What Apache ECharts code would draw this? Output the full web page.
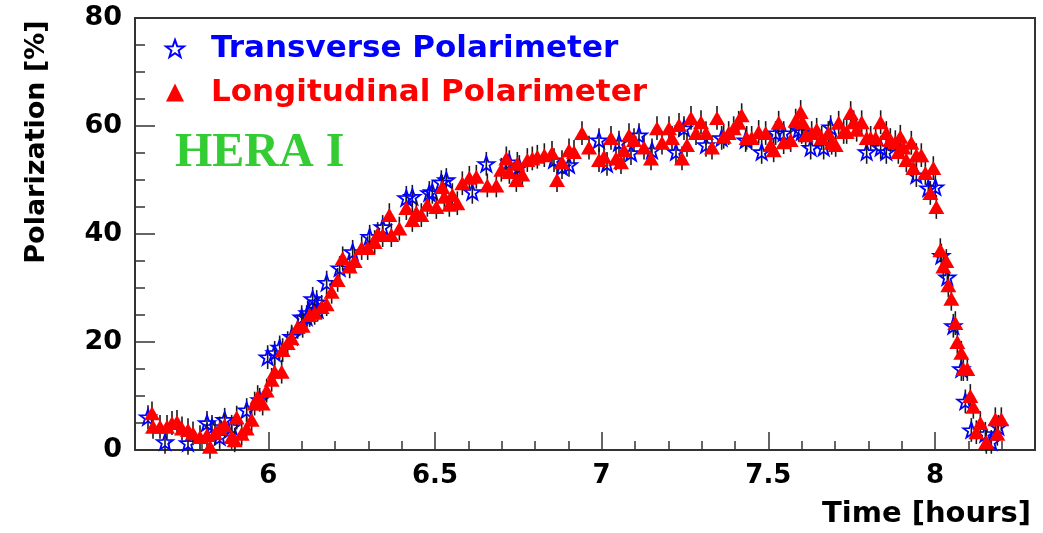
<!DOCTYPE html>
<html>
<head>
<meta charset="utf-8">
<script src="https://cdn.jsdelivr.net/npm/echarts@6/dist/echarts.min.js"></script>
<style>
html,body{margin:0;padding:0;background:#fff;}
#chart{width:1043px;height:533px;}
</style>
</head>
<body>
<div id="chart"></div>
<script>
// ---- Data ----
const tLong = [5.651,5.654,5.675,5.696,5.711,5.726,5.741,5.759,5.774,5.795,5.816,5.825,5.840,5.854,5.869,5.890,5.899,5.905,5.920,5.935,5.950,5.959,5.968,5.983,5.995,6.010,6.019,6.040,6.043,6.058,6.070,6.088,6.103,6.124,6.139,6.160,6.175,6.190,6.208,6.223,6.244,6.259,6.280,6.298,6.319,6.328,6.343,6.363,6.369,6.393,6.414,6.432,6.444,6.459,6.477,6.504,6.522,6.528,6.543,6.552,6.567,6.582,6.603,6.624,6.657,6.684,6.699,6.714,6.723,6.744,6.747,6.762,6.777,6.792,6.807,6.828,6.851,6.866,6.881,6.902,6.917,6.941,6.962,6.992,7.007,7.028,7.043,7.058,7.067,7.082,7.097,7.127,7.148,7.166,7.181,7.202,7.211,7.232,7.241,7.256,7.268,7.283,7.298,7.313,7.331,7.346,7.366,7.381,7.396,7.411,7.420,7.435,7.450,7.471,7.492,7.507,7.516,7.531,7.546,7.567,7.582,7.597,7.603,7.612,7.630,7.645,7.660,7.680,7.690,7.702,7.711,7.726,7.735,7.747,7.756,7.765,7.780,7.795,7.807,7.822,7.837,7.854,7.866,7.881,7.890,7.896,7.905,7.914,7.929,7.935,7.944,7.959,7.971,7.986,7.995,8.004,8.016,8.025,8.034,8.040,8.049,8.061,8.067,8.079,8.085,8.097,8.106,8.115,8.124,8.136,8.154,8.181,8.187,8.199];
const vLong = [6.8,4.3,4.3,4.3,5.0,5.2,4.0,3.7,3.1,2.4,2.8,0.6,3.1,4.0,4.6,2.4,1.8,6.0,3.0,4.0,5.6,8.6,9.8,8.6,11.0,13.0,14.5,14.5,18.5,19.8,20.7,22.8,23.0,25.0,25.4,26.5,27.0,29.3,31.5,35.5,34.0,35.0,37.4,37.4,38.5,40.0,39.8,43.5,39.8,41.0,44.8,42.6,44.0,43.5,45.4,45.0,48.7,46.9,45.4,47.2,45.7,49.4,50.4,50.6,49.0,49.0,51.9,54.0,51.5,50.0,53.0,51.0,53.7,54.0,54.3,54.6,55.0,50.0,53.3,55.5,55.2,58.7,56.0,53.7,54.3,57.8,54.0,53.3,55.5,58.3,57.4,56.0,54.0,59.6,56.9,59.6,57.8,60.2,54.0,56.5,61.5,58.7,60.7,58.7,56.0,61.5,58.0,58.7,59.6,60.6,62.0,57.8,57.8,58.9,58.7,56.5,55.5,60.6,57.0,57.4,61.0,62.6,60.7,58.3,58.7,59.3,57.8,58.7,56.9,56.5,60.6,58.9,58.9,62.4,60.7,59.3,60.7,57.8,57.8,57.8,60.7,58.7,57.4,57.0,55.2,58.0,56.0,53.7,56.9,52.2,54.6,54.6,51.3,47.6,52.2,45.0,37.0,34.0,35.0,30.5,28.0,23.5,20.0,18.0,15.0,15.0,10.0,8.0,3.3,5.0,1.5,5.7,3.0,5.7];
const tTrans = [5.639,5.690,5.759,5.816,5.831,5.854,5.869,5.890,5.935,5.974,5.998,6.019,6.034,6.070,6.100,6.115,6.118,6.133,6.145,6.148,6.175,6.214,6.253,6.304,6.343,6.414,6.432,6.483,6.492,6.519,6.534,6.612,6.654,6.723,6.753,6.857,6.881,6.902,6.992,7.016,7.052,7.088,7.112,7.151,7.223,7.247,7.313,7.360,7.432,7.480,7.522,7.546,7.591,7.600,7.627,7.666,7.687,7.795,7.837,7.854,7.944,7.980,8.001,8.019,8.037,8.055,8.079,8.091,8.109,8.151,8.169,8.190];
const vTrans = [6.1,1.5,1.3,5.0,4.3,2.4,5.6,4.3,7.4,9.3,17.2,18.0,19.0,21.0,24.6,24.6,25.4,28.0,27.4,26.0,31.0,33.7,36.7,39.5,41.3,46.7,46.9,47.6,47.8,49.6,50.0,47.8,53.0,53.3,52.4,53.7,52.4,52.8,57.4,53.0,56.9,55.0,58.3,55.5,55.2,59.6,56.5,57.8,57.4,55.2,58.7,58.7,59.3,58.9,56.0,56.0,59.8,55.2,56.0,55.2,50.9,48.5,48.7,36.0,32.0,23.0,15.0,9.0,3.7,3.0,1.5,4.3];
const errLong = 2.2;   // half-length of error bars (percent)
const errTrans = 2.2;
const xMajorTicks = [6, 6.5, 7, 7.5, 8];
const yTickLabels = [0, 20, 40, 60, 80];

const nameTrans = 'Transverse Polarimeter';
const nameLong = 'Longitudinal Polarimeter';

const starPath = 'path://M50 0 L61.76 33.82 L97.55 34.55 L69.02 56.18 L79.39 90.45 L50 70 L20.61 90.45 L30.98 56.18 L2.45 34.55 L38.24 33.82 Z';

function pairs(t, v) { return t.map((x, i) => [x, v[i]]); }
function errData(t, v, e) { return t.map((x, i) => [x, v[i], e]); }

function renderErr(params, api) {
  const x = api.value(0), y = api.value(1), e = api.value(2);
  const p1 = api.coord([x, y - e]);
  const p2 = api.coord([x, y + e]);
  return {
    type: 'line',
    shape: { x1: p1[0], y1: p1[1], x2: p2[0], y2: p2[1] },
    style: { stroke: '#1a1a1a', lineWidth: 1.6 }
  };
}

const FONT = 'DejaVu Sans';
const chart = echarts.init(document.getElementById('chart'));
chart.setOption({
  animation: false,
  backgroundColor: '#ffffff',
  grid: { left: 135, right: 8, top: 18, bottom: 83, show: true, borderColor: '#333', borderWidth: 2, backgroundColor: 'transparent' },
  xAxis: [{
    type: 'value', min: 5.6, max: 8.3, interval: 0.1,
    axisLine: { show: true, onZero: false, lineStyle: { color: '#333', width: 2 } },
    axisTick: { show: true, inside: true, length: 9, lineStyle: { color: '#333', width: 1.5 } },
    axisLabel: { show: false },
    splitLine: { show: false }
  }, {
    type: 'value', min: 5.6, max: 8.3, position: 'bottom',
    axisLine: { show: false },
    axisTick: { show: true, inside: true, length: 18, customValues: xMajorTicks, lineStyle: { color: '#333', width: 1.5 } },
    axisLabel: { show: true, customValues: xMajorTicks, margin: 13, color: '#000', fontFamily: FONT, fontWeight: 'bold', fontSize: 26,
      formatter: v => String(v) },
    splitLine: { show: false }
  }],
  yAxis: {
    type: 'value', min: 0, max: 80, interval: 20,
    axisLine: { show: true, lineStyle: { color: '#333', width: 2 } },
    axisTick: { show: true, inside: true, length: 20, lineStyle: { color: '#333', width: 1.5 } },
    minorTick: { show: true, splitNumber: 4, length: 10, lineStyle: { color: '#333', width: 1.5 } },
    axisLabel: { margin: 13, color: '#000', fontFamily: FONT, fontWeight: 'bold', fontSize: 27,
      formatter: v => (yTickLabels.indexOf(v) >= 0 ? String(v) : '') },
    splitLine: { show: false }
  },
  legend: {
    orient: 'vertical', left: 160, top: 28, itemGap: 13, itemWidth: 18, itemHeight: 18,
    textStyle: { fontFamily: FONT, fontWeight: 'bold', fontSize: 31, padding: [0, 0, 0, 22] },
    data: [
      { name: nameTrans, icon: starPath, textStyle: { color: '#0000ff' } },
      { name: nameLong, icon: 'triangle', textStyle: { color: '#ff0000' } }
    ]
  },
  graphic: [
    { type: 'text', left: 175, top: 130, style: { text: 'HERA I', fill: '#33cc33', font: 'bold 48px "Liberation Serif", serif' } },
    { type: 'text', x: 37, y: 142, rotation: Math.PI / 2,
      style: { text: 'Polarization [%]', fill: '#000', font: 'bold 27px "DejaVu Sans"', align: 'center', verticalAlign: 'middle' } },
    { type: 'text', right: 12, top: 500, style: { text: 'Time [hours]', fill: '#000', font: 'bold 29px "DejaVu Sans"' } }
  ],
  series: [
    { type: 'custom', name: 'errTrans', renderItem: renderErr, data: errData(tTrans, vTrans, errTrans), z: 2, silent: true, encode: { x: 0, y: 1 } },
    { type: 'scatter', name: nameTrans, data: pairs(tTrans, vTrans), symbol: starPath, symbolSize: 16, symbolKeepAspect: true,
      itemStyle: { color: 'rgba(255,255,255,0)', borderColor: '#0000ff', borderWidth: 1.8, opacity: 1 }, z: 3 },
    { type: 'custom', name: 'errLong', renderItem: renderErr, data: errData(tLong, vLong, errLong), z: 4, silent: true, encode: { x: 0, y: 1 } },
    { type: 'scatter', name: nameLong, data: pairs(tLong, vLong), symbol: 'triangle', symbolSize: [16, 14],
      itemStyle: { color: '#ff0000', opacity: 1 }, z: 5 }
  ]
});
</script>
</body>
</html>
